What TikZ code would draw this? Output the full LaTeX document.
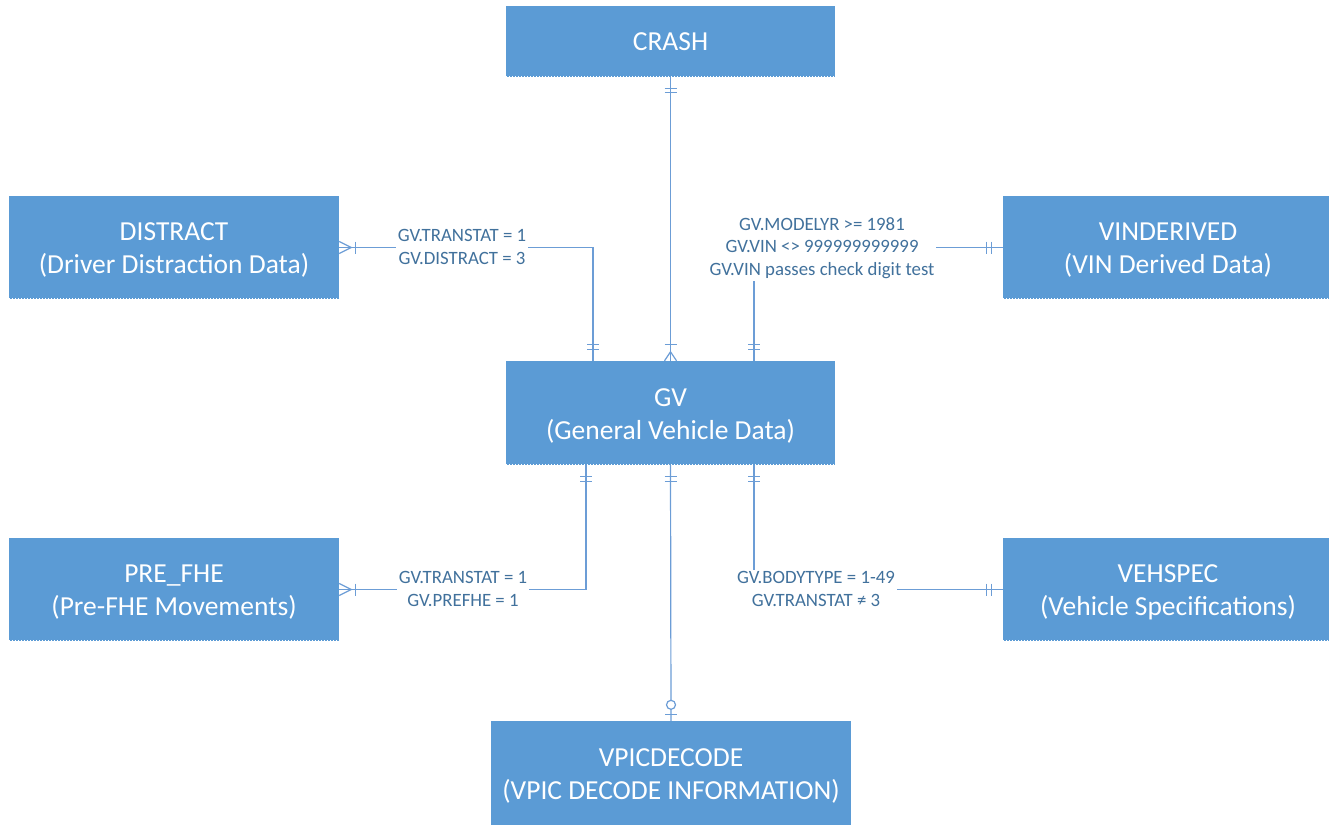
\documentclass[tikz,border=0pt]{standalone}
\usepackage{fontspec}
\setmainfont{Carlito}
\usetikzlibrary{calc}
\definecolor{boxblue}{RGB}{91,155,213}
\definecolor{lineblue}{RGB}{108,157,214}
\definecolor{labelblue}{RGB}{65,113,156}
\tikzset{
  entity/.style={rectangle, fill=boxblue, draw=none, text=white, align=center,
    minimum width=330pt, minimum height=103pt, inner sep=0pt,
    font=\fontsize{27.5}{33}\selectfont},
  twoline/.style={text height=56pt},
  erline/.style={draw=lineblue, line width=1.2pt},
  ermark/.style={draw=lineblue, line width=1.2pt},
  cond/.style={fill=white, text=labelblue, align=center, inner sep=2pt,
    font=\fontsize{18.8}{22.5}\selectfont},
  dotedge/.style={draw=white, line width=1.3pt, dash pattern=on 1.5pt off 1.5pt}
}
\begin{document}
\begin{tikzpicture}[x=1pt,y=-1pt]
\useasboundingbox (0,0) rectangle (1329,825);
% entities
\node[entity, minimum width=329pt, minimum height=71pt] (CRASH) at (670.5,41.5) {CRASH};
\node[entity, twoline] (DISTRACT) at (174,247.5) {DISTRACT\\(Driver Distraction Data)};
\node[entity, twoline] (VINDERIVED) at (1168,247.5) {VINDERIVED\\(VIN Derived Data)};
\node[entity, twoline, minimum width=329pt, minimum height=104pt] (GV) at (670.5,413) {GV\\(General Vehicle Data)};
\node[entity, twoline] (PREFHE) at (174,589.5) {PRE\_FHE\\(Pre-FHE Movements)};
\node[entity, twoline] (VEHSPEC) at (1168,589.5) {VEHSPEC\\(Vehicle Specifications)};
\node[entity, twoline, minimum width=360pt, minimum height=104pt] (VPIC) at (671,773) {VPICDECODE\\(VPIC DECODE INFORMATION)};
% dotted bottom edges
\foreach \b in {CRASH,DISTRACT,VINDERIVED,GV,PREFHE,VEHSPEC}{
  \draw[dotedge] ([yshift=0.65pt]\b.south west) -- ([yshift=0.65pt]\b.south east);
}
% connectors
\draw[erline] (CRASH.south) -- (GV.north);
\draw[erline] (DISTRACT.east) -| ([xshift=-77.5pt]GV.north);
\draw[erline] (VINDERIVED.west) -| ([xshift=83.5pt]GV.north);
\draw[erline] (PREFHE.east) -| ([xshift=-84.5pt]GV.south);
\draw[erline] (VEHSPEC.west) -| ([xshift=83.5pt]GV.south);
\draw[erline] (GV.south) -- (VPIC.north);
% condition labels
\node[cond] (c1) at (462,247) {GV.TRANSTAT = 1\\GV.DISTRACT = 3};
\node[cond] (c2) at (822,248) {GV.MODELYR >= 1981\\GV.VIN <> 999999999999\\GV.VIN passes check digit test};
\node[cond] (c3) at (463,589) {GV.TRANSTAT = 1\\GV.PREFHE = 1};
\node[cond] (c4) at (816,589) {GV.BODYTYPE = 1-49\\GV.TRANSTAT ≠ 3};
% markers: CRASH end (one and only one)
\draw[ermark] ($(CRASH.south)+(-6,11)$) -- +(12,0);
\draw[ermark] ($(CRASH.south)+(-6,15)$) -- +(12,0);
% GV top, CRASH line (one or many)
\draw[ermark] ($(GV.north)+(-6,-16)$) -- +(12,0);
\draw[ermark] ($(GV.north)+(-6,0)$) -- ($(GV.north)+(0,-9)$) -- ($(GV.north)+(6,0)$);
% GV top, DISTRACT line
\draw[ermark] ($(GV.north)+(-83.5,-16)$) -- +(12,0);
\draw[ermark] ($(GV.north)+(-83.5,-11)$) -- +(12,0);
% GV top, VINDERIVED line
\draw[ermark] ($(GV.north)+(77.5,-16)$) -- +(12,0);
\draw[ermark] ($(GV.north)+(77.5,-11)$) -- +(12,0);
% DISTRACT end (one or many)
\draw[ermark] ($(DISTRACT.east)+(0,-6)$) -- ($(DISTRACT.east)+(12,0)$) -- ($(DISTRACT.east)+(0,6)$);
\draw[ermark] ($(DISTRACT.east)+(16,-6)$) -- +(0,12);
% VINDERIVED end
\draw[ermark] ($(VINDERIVED.west)+(-16,-6)$) -- +(0,12);
\draw[ermark] ($(VINDERIVED.west)+(-11,-6)$) -- +(0,12);
% GV bottom bars
\foreach \dx in {-84.5,0,83.5}{
  \draw[ermark] ($(GV.south)+(\dx-6,11)$) -- +(12,0);
  \draw[ermark] ($(GV.south)+(\dx-6,16)$) -- +(12,0);
}
% PRE_FHE end (one or many)
\draw[ermark] ($(PREFHE.east)+(0,-6)$) -- ($(PREFHE.east)+(12,0)$) -- ($(PREFHE.east)+(0,6)$);
\draw[ermark] ($(PREFHE.east)+(16,-6)$) -- +(0,12);
% VEHSPEC end
\draw[ermark] ($(VEHSPEC.west)+(-16,-6)$) -- +(0,12);
\draw[ermark] ($(VEHSPEC.west)+(-11,-6)$) -- +(0,12);
% VPIC end (zero or one)
\draw[ermark] ($(VPIC.north)+(-6,-6)$) -- +(12,0);
\draw[ermark, fill=white] ($(VPIC.north)+(0,-16)$) circle[radius=4.5pt];
\end{tikzpicture}
\end{document}
